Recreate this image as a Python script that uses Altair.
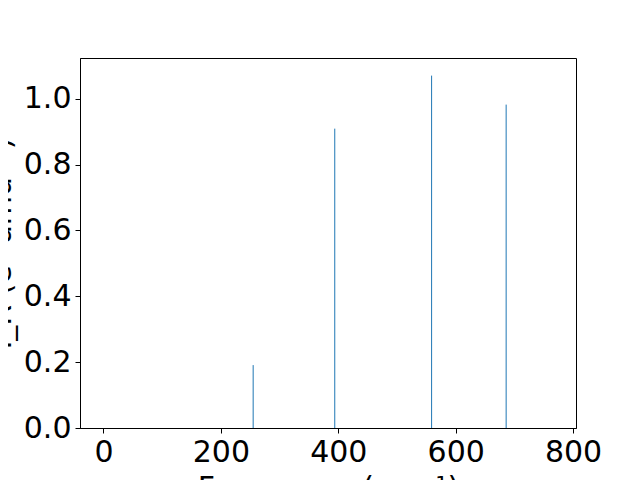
import altair as alt
import pandas as pd

freq = [255, 394, 559, 686]
intensity = [0.191, 0.909, 1.070, 0.982]
x_ticks = [0, 200, 400, 600, 800]
y_ticks = [0.0, 0.2, 0.4, 0.6, 0.8, 1.0]

df = pd.DataFrame({"freq": freq, "intensity": intensity, "base": [0.0] * len(freq)})

chart = alt.Chart(df).mark_rule(color="#1f77b4", strokeWidth=1).encode(
    x=alt.X("freq:Q",
            scale=alt.Scale(domain=[-40, 805], nice=False, zero=False),
            axis=alt.Axis(values=x_ticks, format="d", title="Frequency (cm⁻¹)",
                          titleY=69, titleBaseline="alphabetic")),
    y=alt.Y("base:Q",
            scale=alt.Scale(domain=[0, 1.1235], nice=False, zero=False),
            axis=alt.Axis(values=y_ticks, format=".1f", title="I_R (e² amu⁻¹)",
                          titleX=-70, titleBaseline="alphabetic", titleAngle=270)),
    y2="intensity:Q",
).properties(
    width=496, height=370,
    autosize=alt.AutoSizeParams(type="none"),
    padding={"left": 72, "top": 50, "right": 56, "bottom": 80},
).configure_view(
    stroke="black", strokeWidth=1
).configure_axis(
    grid=False,
    domainColor="black", domainWidth=1,
    tickColor="black", tickSize=5, tickWidth=1,
    labelFont="DejaVu Sans", labelFontSize=30, labelColor="black", labelPadding=4,
    titleFont="DejaVu Sans", titleFontSize=30, titleColor="black", titleFontWeight="normal",
)

chart.save("out.html", embed_options={"renderer": "svg", "actions": False})
